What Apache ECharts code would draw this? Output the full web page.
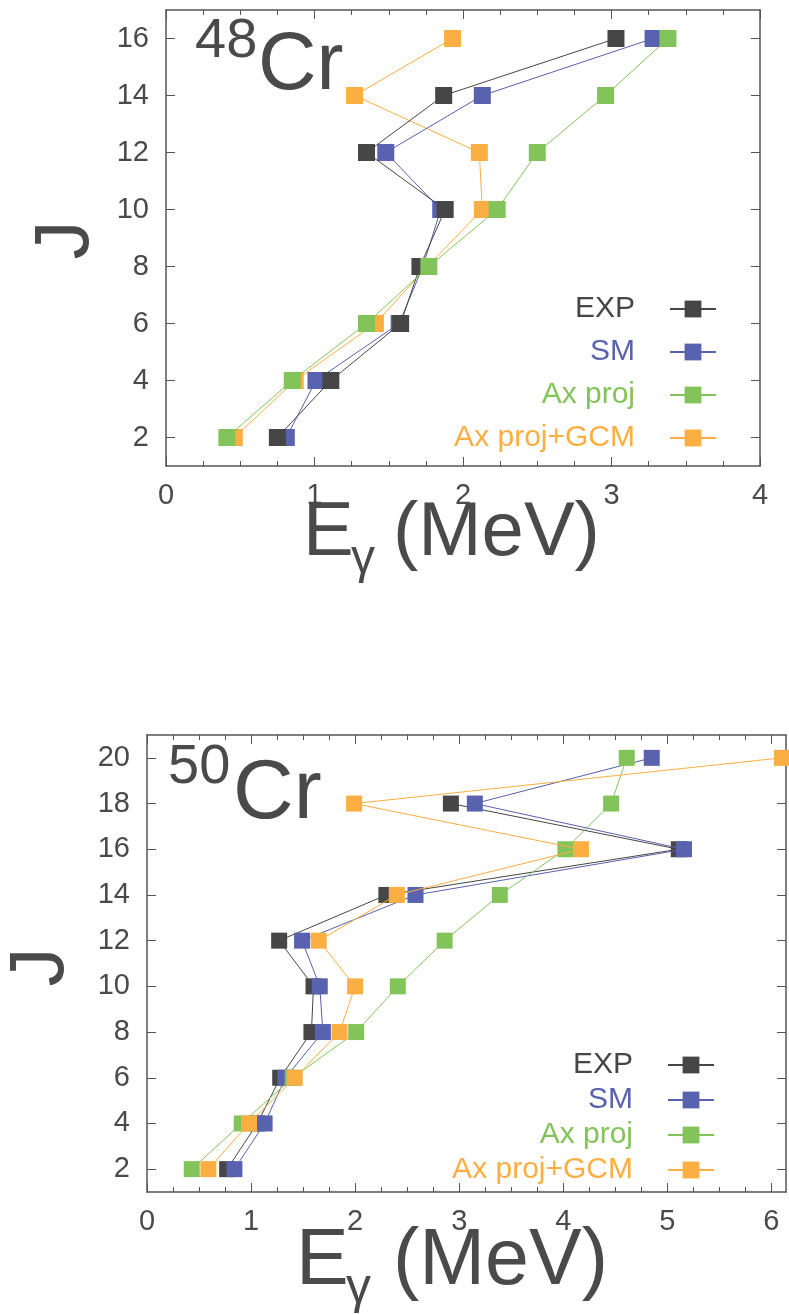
<!DOCTYPE html>
<html><head><meta charset="utf-8">
<script src="https://cdn.jsdelivr.net/npm/echarts@6/dist/echarts.min.js"></script>
<style>html,body{margin:0;padding:0;background:#fff}#c{width:789px;height:1315px}</style>
</head><body><div id="c"></div>
<script>
// ---------- data ----------
const seriesNames = ['EXP', 'SM', 'Ax proj', 'Ax proj+GCM'];
const seriesColors = ['#464646', '#5862ae', '#83c45a', '#fbae42'];

// 48Cr panel (E_gamma in MeV vs J)
const J48 = [2, 4, 6, 8, 10, 12, 14, 16];
const exp48 = [0.75, 1.11, 1.58, 1.71, 1.88, 1.35, 1.87, 3.03];
const sm48 = [0.81, 1.01, 1.57, 1.73, 1.85, 1.48, 2.13, 3.28];
const ax48 = [0.41, 0.85, 1.35, 1.77, 2.23, 2.50, 2.96, 3.38];
const gcm48 = [0.46, 0.87, 1.41, 1.76, 2.13, 2.11, 1.27, 1.93];

// 50Cr panel
const J50 = [2, 4, 6, 8, 10, 12, 14, 16, 18, 20];
const exp50 = [0.77, 1.06, 1.28, 1.58, 1.60, 1.27, 2.30, 5.11, 2.92]; // J = 2..18
const sm50 = [0.84, 1.13, 1.33, 1.69, 1.66, 1.49, 2.58, 5.16, 3.15, 4.85];
const ax50 = [0.43, 0.91, 1.40, 2.01, 2.41, 2.86, 3.39, 4.02, 4.46, 4.61];
const gcm50 = [0.59, 0.98, 1.42, 1.85, 2.00, 1.65, 2.40, 4.17, 1.99, 6.10];

// ticks
const xMajor48 = [0, 1, 2, 3, 4];
const xMinor48 = [0.25, 0.5, 0.75, 1.25, 1.5, 1.75, 2.25, 2.5, 2.75, 3.25, 3.5, 3.75];
const yTicks48 = [2, 4, 6, 8, 10, 12, 14, 16];
const xMajor50 = [0, 1, 2, 3, 4, 5, 6];
const xMinor50 = [0.25, 0.5, 0.75, 1.25, 1.5, 1.75, 2.25, 2.5, 2.75, 3.25, 3.5, 3.75, 4.25, 4.5, 4.75, 5.25, 5.5, 5.75];
const yTicks50 = [2, 4, 6, 8, 10, 12, 14, 16, 18, 20];

// ---------- styling ----------
const FONT = '"Liberation Sans", Arial, Helvetica, sans-serif';
const AX = '#555555';
const TXT = '#4a4a4a';

function xAxisSet(gridIndex, min, max, majors, minors) {
  const base = { type: 'value', gridIndex, min, max, splitLine: { show: false },
    axisLine: { onZero: false, lineStyle: { color: AX, width: 1.5 } } };
  const tk = (vals, len) => ({ inside: true, length: len, customValues: vals, lineStyle: { color: AX, width: 1 } });
  return [
    Object.assign({}, base, { position: 'bottom', axisTick: tk(majors, 9),
      axisLabel: { customValues: majors, fontSize: 29, color: TXT, fontFamily: FONT, margin: 15 } }),
    Object.assign({}, base, { position: 'bottom', axisLine: { show: false, onZero: false }, axisTick: tk(minors, 5), axisLabel: { show: false } }),
    Object.assign({}, base, { position: 'top', axisTick: tk(majors, 9), axisLabel: { show: false } }),
    Object.assign({}, base, { position: 'top', axisLine: { show: false, onZero: false }, axisTick: tk(minors, 5), axisLabel: { show: false } })
  ];
}
function yAxisSet(gridIndex, min, max, ticks) {
  const base = { type: 'value', gridIndex, min, max, splitLine: { show: false },
    axisLine: { onZero: false, lineStyle: { color: AX, width: 1.5 } },
    axisTick: { inside: true, length: 9, customValues: ticks, lineStyle: { color: AX, width: 1 } } };
  return [
    Object.assign({}, base, { position: 'left',
      axisLabel: { customValues: ticks, fontSize: 29, color: TXT, fontFamily: FONT, margin: 17 } }),
    Object.assign({}, base, { position: 'right', axisLabel: { show: false } })
  ];
}
function mk(name, xs, js, color, gi, z, size) {
  return { type: 'line', name, xAxisIndex: gi * 4, yAxisIndex: gi * 2,
    data: xs.map((x, i) => [x, js[i]]),
    symbol: 'rect', symbolSize: size, showSymbol: true, showAllSymbol: true,
    lineStyle: { color, width: 1 }, itemStyle: { color }, z, clip: false,
    animation: false, emphasis: { disabled: true } };
}
function legendCfg(right, top, gap) {
  return { orient: 'vertical', right, top, align: 'right', padding: 0,
    itemWidth: 46, itemHeight: 21, itemGap: gap, selectedMode: false,
    textStyle: { fontSize: 30, fontFamily: FONT, lineHeight: 30, padding: [0, 30, 0, 0] },
    data: seriesNames.map((n, i) => ({ name: n, textStyle: { color: seriesColors[i] } })) };
}
function txt(text, x, y, size, rot) {
  return { type: 'text', x, y, rotation: rot || 0, silent: true, z: 100,
    style: { text, fontSize: size, fontFamily: FONT, fill: TXT, align: rot ? 'center' : 'left', verticalAlign: 'middle' } };
}

const chart = echarts.init(document.getElementById('c'), null, { renderer: 'canvas' });
chart.setOption({
  backgroundColor: '#ffffff',
  animation: false,
  grid: [
    { left: 166, top: 10, width: 594, height: 456, outerBoundsMode: 'none', containLabel: false },
    { left: 147, top: 735, width: 639, height: 457, outerBoundsMode: 'none', containLabel: false }
  ],
  xAxis: [].concat(xAxisSet(0, 0, 4, xMajor48, xMinor48), xAxisSet(1, 0, 6.14, xMajor50, xMinor50)),
  yAxis: [].concat(yAxisSet(0, 1, 17, yTicks48), yAxisSet(1, 1, 21, yTicks50)),
  legend: [legendCfg(72, 294, 13), legendCfg(74, 1050, 5)],
  series: [
    mk(seriesNames[3], gcm48, J48, seriesColors[3], 0, 2, 17),
    mk(seriesNames[1], sm48, J48, seriesColors[1], 0, 3, 17),
    mk(seriesNames[0], exp48, J48, seriesColors[0], 0, 4, 17),
    mk(seriesNames[2], ax48, J48, seriesColors[2], 0, 5, 17),
    mk(seriesNames[0], exp50, J50, seriesColors[0], 1, 2, 16),
    mk(seriesNames[1], sm50, J50, seriesColors[1], 1, 3, 16),
    mk(seriesNames[2], ax50, J50, seriesColors[2], 1, 4, 16),
    mk(seriesNames[3], gcm50, J50, seriesColors[3], 1, 5, 16)
  ],
  graphic: [
    txt('48', 195, 42, 56), txt('Cr', 258, 67, 81),
    txt('J', 66, 240, 78, Math.PI / 2),
    txt('E', 303, 534, 76), txt('γ', 351, 560, 48), txt('(MeV)', 393, 534, 76),
    txt('50', 168, 768, 56), txt('Cr', 233, 795, 84),
    txt('J', 41, 967, 78, Math.PI / 2),
    txt('E', 296, 1262, 79), txt('γ', 346, 1289, 50), txt('(MeV)', 393, 1262, 79)
  ]
});
</script></body></html>
